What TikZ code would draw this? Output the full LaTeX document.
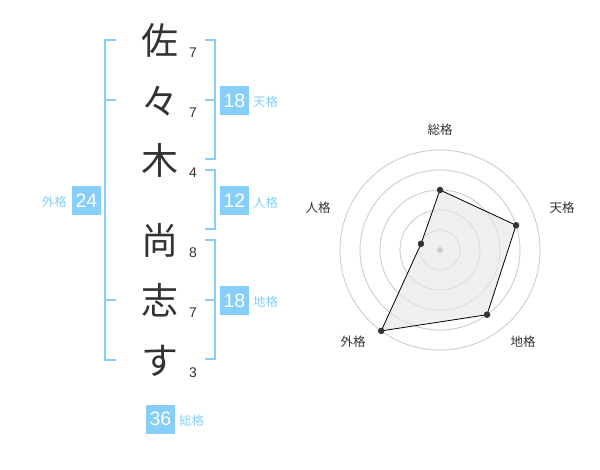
\documentclass[tikz,border=0pt]{standalone}
\usepackage{fontspec}
\usetikzlibrary{calc}
\setmainfont{Noto Sans CJK JP}
\newfontfamily\jp{Noto Sans CJK JP}
\newfontfamily\num{Liberation Sans}
\definecolor{sky}{HTML}{87CEFA}
\definecolor{ink}{HTML}{333333}
\definecolor{ring}{HTML}{CCCCCC}
\definecolor{area}{HTML}{EFEFEF}
\begin{document}
\begin{tikzpicture}[x=1pt,y=-1pt,
  namechar/.style={font=\jp\fontsize{37}{37}\selectfont, text=ink, inner sep=0},
  strokes/.style={font=\num\fontsize{14}{14}\selectfont, text=ink, inner sep=0},
  brk/.style={draw=sky, line width=2pt},
  scorebox/.style={fill=sky, text=white, minimum width=29pt, minimum height=29pt, inner sep=0, font=\num\fontsize{19.5}{19.5}\selectfont},
  kaku/.style={text=sky, font=\jp\fontsize{12.5}{12.5}\selectfont, inner sep=0},
  rlabel/.style={text=ink, font=\jp\fontsize{12.5}{12.5}\selectfont, inner sep=0},
  dot/.style={circle, fill=ink, inner sep=0, minimum size=6.5pt}]
\useasboundingbox (0,0) rectangle (600,470);

% name characters
\node[namechar] (c1) at (160,40) {佐};
\node[namechar] (c2) at (160,101) {々};
\node[namechar] (c3) at (160,160) {木};
\node[namechar] (c4) at (160,240) {尚};
\node[namechar] (c5) at (160,300) {志};
\node[namechar] (c6) at (160,361) {す};

\node[strokes] (s1) at (193,53) {7};
\node[strokes] (s2) at (193,113) {7};
\node[strokes] (s3) at (193,173) {4};
\node[strokes] (s4) at (193,253) {8};
\node[strokes] (s5) at (193,313) {7};
\node[strokes] (s6) at (193,373) {3};

% left bracket (gaikaku)
\draw[brk] (116,40) -- (105,40) -- (105,360) -- (116,360);
\draw[brk] (105,100) -- (116,100);
\draw[brk] (105,300) -- (116,300);

% right brackets
\draw[brk] (205,40) -- (215,40) -- (215,159) -- (205,159);
\draw[brk] (205,100) -- (215,100);
\draw[brk] (205,170) -- (215,170) -- (215,229) -- (205,229);
\draw[brk] (205,240) -- (215,240) -- (215,359) -- (205,359);
\draw[brk] (205,300) -- (215,300);

% score boxes
\node[scorebox] (ten) at (234.5,100.5) {18};
\node[kaku, anchor=west] (tenl) at (253,102) {天格};
\node[scorebox] (jin) at (234.5,201) {12};
\node[kaku, anchor=west] (jinl) at (253,203) {人格};
\node[scorebox] (chi) at (234.5,300.5) {18};
\node[kaku, anchor=west] (chil) at (253,302) {地格};
\node[scorebox] (gai) at (86.5,200.5) {24};
\node[kaku, anchor=east] (gail) at (67,202) {外格};
\node[scorebox] (sou) at (160.5,419) {36};
\node[kaku, anchor=west] (soul) at (179,421) {総格};

% radar chart
\coordinate (O) at (440,250);
\foreach \r in {20,40,60,80,100} \draw[ring, line width=0.7pt] (O) circle (\r);
\coordinate (pS) at ($(O)+(0,-60)$);
\coordinate (pT) at ($(O)+(76.08,-24.72)$);
\coordinate (pC) at ($(O)+(47.02,64.72)$);
\coordinate (pG) at ($(O)+(-58.78,80.90)$);
\coordinate (pJ) at ($(O)+(-19.02,-6.18)$);
\fill[area] (pS) -- (pT) -- (pC) -- (pG) -- (pJ) -- cycle;
\foreach \r in {20,40,60,80,100} \draw[ring, line width=0.7pt, opacity=0.6] (O) circle (\r);
\draw[black, line width=0.8pt] (pS) -- (pT) -- (pC) -- (pG) -- (pJ) -- cycle;
\node[circle, fill=ring, inner sep=0, minimum size=6pt] (ctr) at (O) {};
\foreach \p in {pS,pT,pC,pG,pJ} \node[dot] at (\p) {};

\node[rlabel] (lS) at (440,130) {総格};
\node[rlabel] (lT) at (562,208) {天格};
\node[rlabel] (lC) at (523,342) {地格};
\node[rlabel] (lG) at (353,342) {外格};
\node[rlabel] (lJ) at (318,208) {人格};
\end{tikzpicture}
\end{document}
